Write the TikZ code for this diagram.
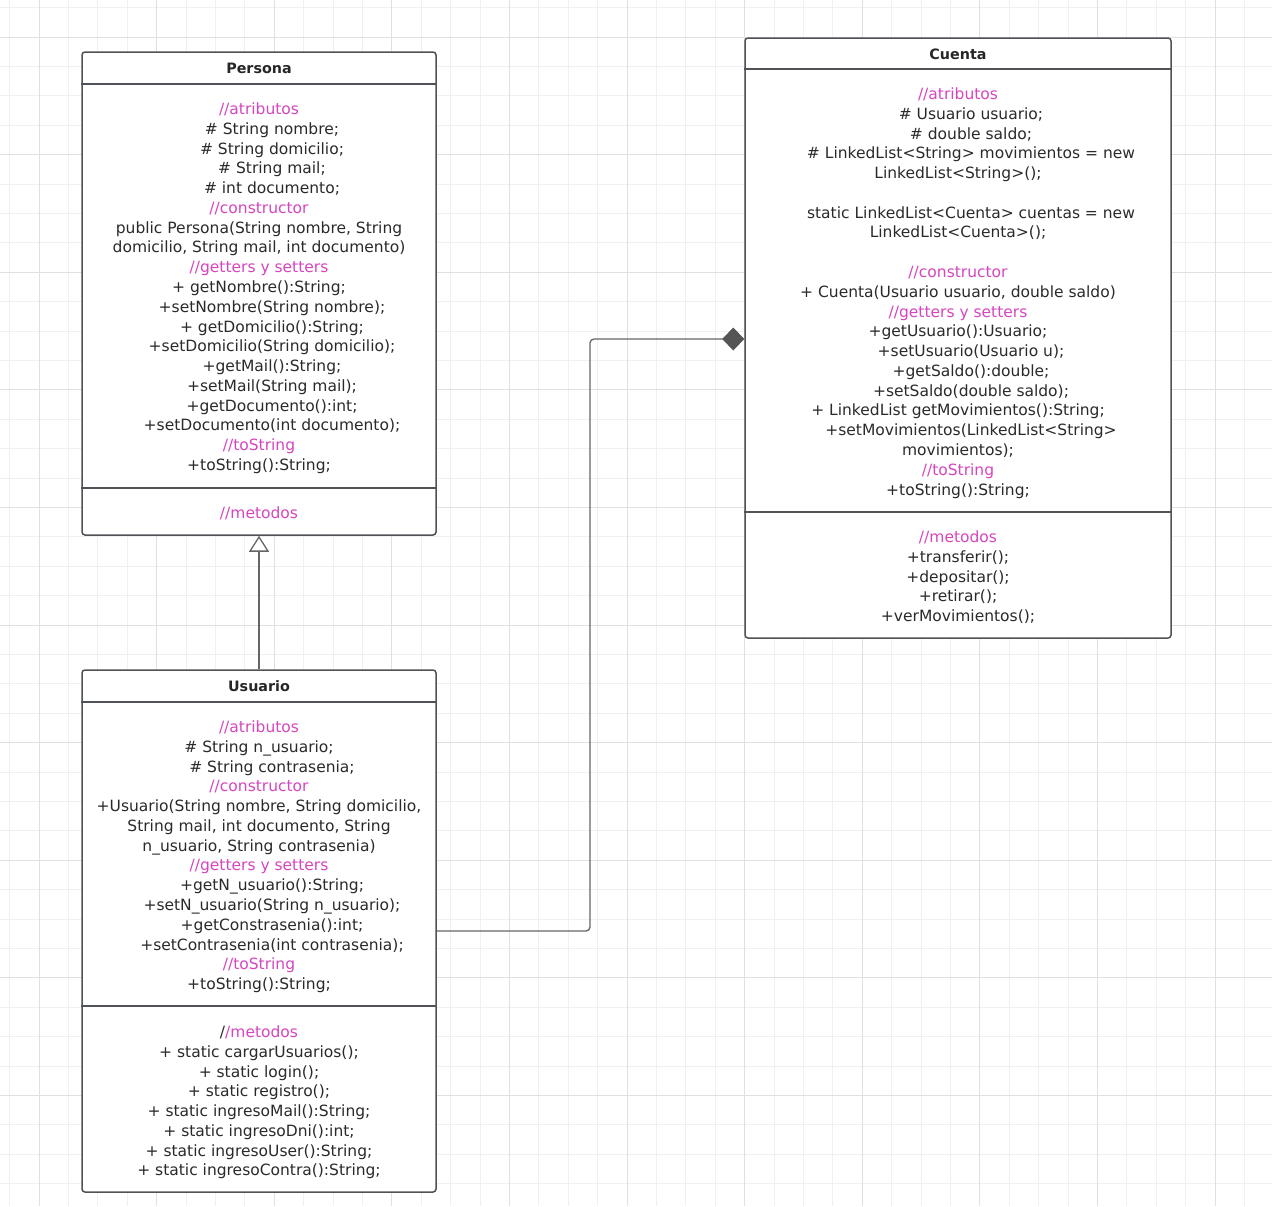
\documentclass[tikz,border=0pt]{standalone}
\usepackage{fontspec}
\setmainfont{DejaVu Sans}
\usetikzlibrary{arrows.meta,fit}
\definecolor{gridminor}{HTML}{F0F0F0}
\definecolor{gridmajor}{HTML}{E0E0E0}
\definecolor{boxcolor}{HTML}{4F5256}
\definecolor{txtcolor}{HTML}{2A2A2A}
\definecolor{cmtcolor}{HTML}{D646BE}
\definecolor{linkcolor}{HTML}{666666}
\definecolor{diamondcolor}{HTML}{555555}
\newcommand{\cmt}[1]{\textcolor{cmtcolor}{#1}}

\begin{document}
\begin{tikzpicture}[x=0.5pt,y=-0.5pt,
  classbox/.style={draw=boxcolor,line width=0.75pt,fill=white,rounded corners=1.5pt,inner sep=0pt},
  divider/.style={draw=boxcolor,line width=0.75pt},
  member/.style={anchor=base,inner sep=0pt,text=txtcolor,font=\fontsize{7.75pt}{9.9pt}\selectfont},
  classtitle/.style={anchor=base,inner sep=0pt,text=black!85,font=\fontsize{7.15pt}{9pt}\selectfont\bfseries},
  inherit/.style={draw=linkcolor,line width=0.65pt,-{Triangle[fill=white,length=8pt,width=10pt]}},
  compose/.style={draw=linkcolor,line width=0.65pt,rounded corners=2pt,-{Diamond[color=diamondcolor,fill=diamondcolor,length=11pt,width=11.5pt]}}]
  \useasboundingbox (0,0) rectangle (1272,1206);
  \fill[white] (0,0) rectangle (1272,1206);
  \def\ls{19.78}  % line step
  \def\bl{6.5}    % baseline offset
  % grid
  \foreach \i in {0,...,42} { \draw[gridminor,line width=0.5pt] ({9.6+29.4*\i},0) -- ++(0,1206); }
  \foreach \i in {0,...,40} { \draw[gridminor,line width=0.5pt] (0,{7.6+29.4*\i}) -- ++(1272,0); }
  \foreach \i in {0,...,10} { \draw[gridmajor,line width=0.5pt] ({39+117.6*\i},0) -- ++(0,1206); }
  \foreach \i in {0,...,9} { \draw[gridmajor,line width=0.5pt] (0,{37+117.6*\i}) -- ++(1272,0); }

  % Persona
  \node[classbox,fit={(82,52) (436,535)}] (persona) {};
  \draw[divider] (persona.west |- 0,84) -- (persona.east |- 0,84);
  \draw[divider] (persona.west |- 0,488) -- (persona.east |- 0,488);
  \node[classtitle] (persona-t) at (259,73) {Persona};
  \foreach \k/\dx/\t in {0/0/{\cmt{//atributos}}, 1/13/{\# String nombre;}, 2/13/{\# String domicilio;},
      3/13/{\# String mail;}, 4/13/{\# int documento;}, 5/0/{\cmt{//constructor}},
      6/0/{public Persona(String nombre, String}, 7/0/{domicilio, String mail, int documento)},
      8/0/{\cmt{//getters y setters}}, 9/0/{+ getNombre():String;}, 10/13/{+setNombre(String nombre);},
      11/13/{+ getDomicilio():String;}, 12/13/{+setDomicilio(String domicilio);}, 13/13/{+getMail():String;},
      14/13/{+setMail(String mail);}, 15/13/{+getDocumento():int;}, 16/13/{+setDocumento(int documento);},
      17/0/{\cmt{//toString}}, 18/0/{+toString():String;}}
    { \node[member] (pa\k) at ({259+\dx},{108+\ls*\k+\bl}) {\t}; }
  \node[member] (pm0) at (259,{512+\bl}) {\cmt{//metodos}};

  % Usuario
  \node[classbox,fit={(82,670) (436,1192)}] (usuario) {};
  \draw[divider] (usuario.west |- 0,702) -- (usuario.east |- 0,702);
  \draw[divider] (usuario.west |- 0,1006) -- (usuario.east |- 0,1006);
  \node[classtitle] (usuario-t) at (259,691) {Usuario};
  \foreach \k/\dx/\t in {0/0/{\cmt{//atributos}}, 1/0/{\# String n\_usuario;}, 2/13/{\# String contrasenia;},
      3/0/{\cmt{//constructor}}, 4/0/{+Usuario(String nombre, String domicilio,},
      5/0/{String mail, int documento, String}, 6/0/{n\_usuario, String contrasenia)},
      7/0/{\cmt{//getters y setters}}, 8/13/{+getN\_usuario():String;}, 9/13/{+setN\_usuario(String n\_usuario);},
      10/13/{+getConstrasenia():int;}, 11/13/{+setContrasenia(int contrasenia);},
      12/0/{\cmt{//toString}}, 13/0/{+toString():String;}}
    { \node[member] (ua\k) at ({259+\dx},{726+\ls*\k+\bl}) {\t}; }
  \foreach \k/\t in {0/{/\cmt{/metodos}}, 1/{+ static cargarUsuarios();}, 2/{+ static login();},
      3/{+ static registro();}, 4/{+ static ingresoMail():String;}, 5/{+ static ingresoDni():int;},
      6/{+ static ingresoUser():String;}, 7/{+ static ingresoContra():String;}}
    { \node[member] (um\k) at (259,{1031+\ls*\k+\bl}) {\t}; }

  % Cuenta
  \node[classbox,fit={(745,38) (1171,638)}] (cuenta) {};
  \draw[divider] (cuenta.west |- 0,69) -- (cuenta.east |- 0,69);
  \draw[divider] (cuenta.west |- 0,512) -- (cuenta.east |- 0,512);
  \node[classtitle] (cuenta-t) at (958,59) {Cuenta};
  \foreach \k/\dx/\t in {0/0/{\cmt{//atributos}}, 1/13/{\# Usuario usuario;}, 2/13/{\# double saldo;},
      3/13/{\# LinkedList<String> movimientos = new}, 4/0/{LinkedList<String>();},
      6/13/{static LinkedList<Cuenta> cuentas = new}, 7/0/{LinkedList<Cuenta>();},
      9/0/{\cmt{//constructor}}, 10/0/{+ Cuenta(Usuario usuario, double saldo)},
      11/0/{\cmt{//getters y setters}}, 12/0/{+getUsuario():Usuario;}, 13/13/{+setUsuario(Usuario u);},
      14/13/{+getSaldo():double;}, 15/13/{+setSaldo(double saldo);},
      16/0/{+ LinkedList getMovimientos():String;}, 17/13/{+setMovimientos(LinkedList<String>},
      18/0/{movimientos);}, 19/0/{\cmt{//toString}}, 20/0/{+toString():String;}}
    { \node[member] (ca\k) at ({958+\dx},{93+\ls*\k+\bl}) {\t}; }
  \foreach \k/\t in {0/{\cmt{//metodos}}, 1/{+transferir();}, 2/{+depositar();},
      3/{+retirar();}, 4/{+verMovimientos();}}
    { \node[member] (cm\k) at (958,{536+\ls*\k+\bl}) {\t}; }

  % relations
  \draw[inherit] (usuario.north) -- (persona.south);
  \coordinate (bend) at (590,339);
  \draw[compose] (usuario.east |- 0,931) -| (bend) -- (cuenta.west |- bend);
\end{tikzpicture}
\end{document}
